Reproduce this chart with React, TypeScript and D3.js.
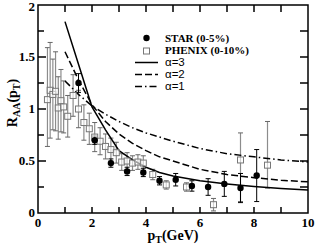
import React, { useEffect, useRef } from 'react';
import * as d3 from 'd3';

// PHENIX (0-10%) open squares
const phenixPt = [0.35, 0.45, 0.55, 0.65, 0.75, 0.85, 0.95, 1.1, 1.3, 1.5, 1.7, 1.9, 2.1, 2.3, 2.5, 2.7, 2.9, 3.1, 3.3, 3.5, 3.7, 3.9, 4.25, 4.75, 5.5, 6.5, 7.5, 8.5];
const phenixR = [1.09, 1.18, 1.14, 1.17, 1.01, 1.08, 1.02, 0.93, 1.13, 1.0, 0.87, 0.81, 0.73, 0.69, 0.64, 0.61, 0.58, 0.49, 0.5, 0.48, 0.49, 0.48, 0.37, 0.27, 0.25, 0.08, 0.51, 0.46];
const phenixErrHi = [0.5, 0.46, 0.34, 0.38, 0.3, 0.3, 0.25, 0.2, 0.2, 0.18, 0.17, 0.15, 0.14, 0.13, 0.12, 0.11, 0.1, 0.08, 0.08, 0.07, 0.07, 0.07, 0.05, 0.04, 0.04, 0.06, 0.26, 0.42];
const phenixErrLo = [0.45, 0.46, 0.34, 0.38, 0.3, 0.3, 0.25, 0.2, 0.2, 0.18, 0.17, 0.15, 0.14, 0.13, 0.12, 0.11, 0.1, 0.08, 0.08, 0.07, 0.07, 0.07, 0.05, 0.04, 0.04, 0.06, 0.4, 0.22];

// STAR (0-5%) filled circles
const starPt = [1.5, 2.1, 2.7, 3.3, 3.9, 4.5, 5.1, 5.7, 6.3, 6.9, 7.5, 8.1];
const starR = [1.25, 0.7, 0.48, 0.4, 0.39, 0.31, 0.32, 0.26, 0.25, 0.28, 0.24, 0.36];
const starErr = [0.09, 0.04, 0.04, 0.04, 0.04, 0.04, 0.06, 0.05, 0.08, 0.12, 0.14, 0.25];

// model curves
const curvePt = [1, 1.5, 2, 2.5, 3, 3.5, 4, 4.5, 5, 6, 7, 8, 9, 10];
const alpha3 = [1.84, 1.43, 1.02, 0.8, 0.6, 0.51, 0.44, 0.39, 0.355, 0.31, 0.28, 0.255, 0.235, 0.22];
const alpha2 = [1.55, 1.28, 1.04, 0.88, 0.76, 0.67, 0.6, 0.54, 0.5, 0.42, 0.37, 0.34, 0.315, 0.3];
const alpha1 = [1.27, 1.14, 1.03, 0.95, 0.88, 0.82, 0.77, 0.73, 0.69, 0.62, 0.57, 0.54, 0.51, 0.49];

const xTicks = [0, 2, 4, 6, 8, 10];
const yTicks = [0, 0.5, 1, 1.5, 2];
const curveLabels = ['α=3', 'α=2', 'α=1'];

const serif = 'Liberation Serif, Times New Roman, serif';
const sans = 'Liberation Sans, Arial, sans-serif';

export default function App() {
  const ref = useRef<SVGSVGElement>(null);

  useEffect(() => {
    const w = 316, h = 245;
    const m = { left: 38, right: 8, top: 5, bottom: 32 };
    const svg = d3.select(ref.current);
    svg.selectAll('*').remove();

    const x = d3.scaleLinear().domain([0, 10]).range([m.left, w - m.right]);
    const y = d3.scaleLinear().domain([0, 2]).range([h - m.bottom, m.top]);

    // PHENIX error bars
    const ph = svg.append('g');
    phenixPt.forEach((p, i) => {
      const cx = x(p);
      const y1 = y(phenixR[i] + phenixErrHi[i]);
      const y2 = y(Math.max(0, phenixR[i] - phenixErrLo[i]));
      ph.append('line').attr('x1', cx).attr('x2', cx).attr('y1', y1).attr('y2', y2)
        .attr('stroke', '#8c8c8c').attr('stroke-width', 1.2);
      [y1, y2].forEach((yy) => {
        ph.append('line').attr('x1', cx - 2.5).attr('x2', cx + 2.5).attr('y1', yy).attr('y2', yy)
          .attr('stroke', '#666').attr('stroke-width', 1);
      });
    });

    // STAR error bars
    const st = svg.append('g');
    starPt.forEach((p, i) => {
      const cx = x(p);
      const y1 = y(starR[i] + starErr[i]);
      const y2 = y(starR[i] - starErr[i]);
      st.append('line').attr('x1', cx).attr('x2', cx).attr('y1', y1).attr('y2', y2)
        .attr('stroke', '#000').attr('stroke-width', 1);
      [y1, y2].forEach((yy) => {
        st.append('line').attr('x1', cx - 2.5).attr('x2', cx + 2.5).attr('y1', yy).attr('y2', yy)
          .attr('stroke', '#000').attr('stroke-width', 1);
      });
    });

    // curves
    const line = d3.line<number>().x((d, i) => x(curvePt[i])).y((d) => y(d));
    const dashes = [null, '7,3', '7,3,1.5,3'];
    [alpha3, alpha2, alpha1].forEach((vals, k) => {
      svg.append('path').attr('d', line(vals)).attr('fill', 'none')
        .attr('stroke', '#000').attr('stroke-width', 1.5)
        .attr('stroke-dasharray', dashes[k]);
    });

    // markers
    svg.append('g').selectAll('rect').data(phenixPt).enter().append('rect')
      .attr('x', (d) => x(d) - 3).attr('y', (d, i) => y(phenixR[i]) - 3)
      .attr('width', 6).attr('height', 6)
      .attr('fill', '#fff').attr('fill-opacity', 0.6).attr('stroke', '#777').attr('stroke-width', 1);
    svg.append('g').selectAll('circle').data(starPt).enter().append('circle')
      .attr('cx', (d) => x(d)).attr('cy', (d, i) => y(starR[i])).attr('r', 3.2).attr('fill', '#000');

    // frame + ticks
    const x0 = m.left, x1 = w - m.right, y0 = h - m.bottom, y1 = m.top;
    const ax = svg.append('g').attr('stroke', '#000').attr('stroke-width', 1.5);
    d3.range(1, 10).forEach((t) => {
      ax.append('line').attr('x1', x(t)).attr('x2', x(t)).attr('y1', y0).attr('y2', y0 - 6);
      ax.append('line').attr('x1', x(t)).attr('x2', x(t)).attr('y1', y1).attr('y2', y1 + 7);
    });
    d3.range(0.25, 2, 0.25).forEach((t) => {
      const len = Math.abs(t % 0.5) < 1e-6 ? 8 : 6;
      ax.append('line').attr('x1', x0).attr('x2', x0 + len).attr('y1', y(t)).attr('y2', y(t));
      ax.append('line').attr('x1', x1).attr('x2', x1 - 8).attr('y1', y(t)).attr('y2', y(t));
    });
    ax.append('rect').attr('x', x0).attr('y', y1).attr('width', x1 - x0).attr('height', y0 - y1)
      .attr('fill', 'none');

    // tick labels
    svg.append('g').selectAll('text').data(xTicks).enter().append('text')
      .attr('x', (d) => x(d)).attr('y', y0 + 14).attr('text-anchor', 'middle')
      .attr('font-family', serif).attr('font-weight', 'bold').attr('font-size', 13)
      .text((d) => d);
    svg.append('g').selectAll('text').data(yTicks).enter().append('text')
      .attr('x', x0 - 3).attr('y', (d) => Math.max(y(d) + 4, 11)).attr('text-anchor', 'end')
      .attr('font-family', serif).attr('font-weight', 'bold').attr('font-size', 13)
      .text((d) => d);

    // axis titles
    const xt = svg.append('text').attr('x', 173).attr('y', 240).attr('text-anchor', 'middle')
      .attr('font-family', serif).attr('font-weight', 'bold').attr('font-size', 14);
    xt.append('tspan').text('p');
    xt.append('tspan').attr('font-size', 10).attr('dy', 3).text('T');
    xt.append('tspan').attr('dy', -3).text('(GeV)');

    const yt = svg.append('text').attr('transform', 'translate(17,103) rotate(-90)')
      .attr('text-anchor', 'middle')
      .attr('font-family', serif).attr('font-weight', 'bold').attr('font-size', 14);
    yt.append('tspan').text('R');
    yt.append('tspan').attr('font-size', 10).attr('dy', 3).text('AA');
    yt.append('tspan').attr('dy', -3).text('(p');
    yt.append('tspan').attr('font-size', 10).attr('dy', 3).text('T');
    yt.append('tspan').attr('dy', -3).text(')');

    // legend
    const lg = svg.append('g');
    lg.append('circle').attr('cx', 146.5).attr('cy', 38).attr('r', 3.2).attr('fill', '#000');
    lg.append('rect').attr('x', 143.5).attr('y', 48).attr('width', 6).attr('height', 6)
      .attr('fill', '#fff').attr('stroke', '#777');
    lg.append('text').attr('x', 165).attr('y', 41.5).attr('font-family', serif).attr('font-weight', 'bold')
      .attr('font-size', 11).text('STAR (0-5%)');
    lg.append('text').attr('x', 165).attr('y', 54).attr('font-family', serif).attr('font-weight', 'bold')
      .attr('font-size', 11).text('PHENIX (0-10%)');
    curveLabels.forEach((lab, k) => {
      const yy = 62.5 + k * 12;
      lg.append('line').attr('x1', 135).attr('x2', 158).attr('y1', yy).attr('y2', yy)
        .attr('stroke', '#000').attr('stroke-width', 1.5).attr('stroke-dasharray', dashes[k]);
      lg.append('text').attr('x', 165).attr('y', yy + 3.5).attr('font-family', sans)
        .attr('font-size', 11.5).text(lab);
    });
  }, []);

  return (
    <div style={{ position: 'absolute', left: 0, top: 0 }}>
      <svg ref={ref} width={316} height={245} style={{ display: 'block', background: '#fff' }} />
    </div>
  );
}
